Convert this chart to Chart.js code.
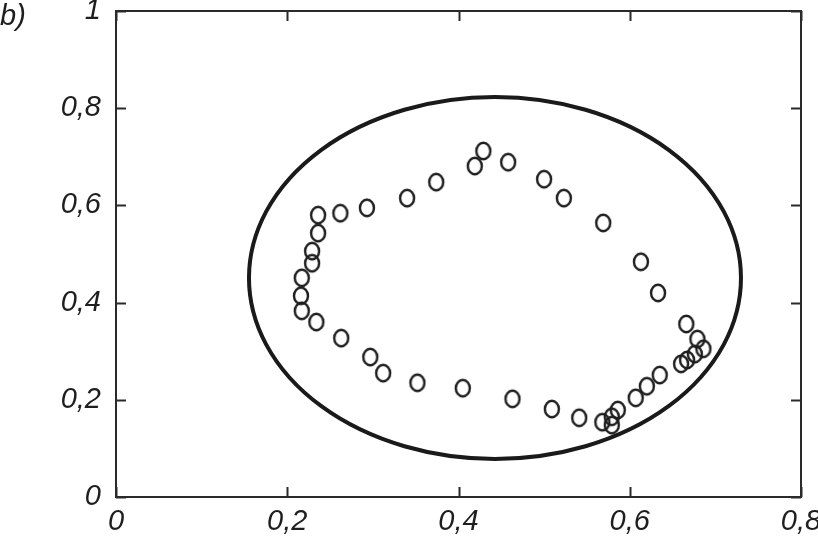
<!DOCTYPE html>
<html lang="en">
<head>
    <meta charset="UTF-8">
    <title>Scatter with ellipse (b)</title>
    <script src="https://cdn.jsdelivr.net/npm/chart.js"></script>
    <style>
        body {
            margin: 0;
            padding: 0;
            background-color: #fff;
        }
        .wrap {
            width: 818px;
            height: 540px;
        }
    </style>
</head>
<body>
    <div class="wrap">
        <canvas id="plot" width="818" height="540"></canvas>
    </div>

    <script>
        // measured points (x, y)
        const xValues = [0.429, 0.419, 0.458, 0.500, 0.523, 0.569, 0.613, 0.633, 0.666, 0.679,
                         0.686, 0.676, 0.667, 0.660, 0.635, 0.620, 0.607, 0.586, 0.579, 0.579,
                         0.568, 0.541, 0.509, 0.463, 0.405, 0.352, 0.312, 0.297, 0.263, 0.234,
                         0.217, 0.216, 0.217, 0.229, 0.229, 0.236, 0.236, 0.262, 0.293, 0.340,
                         0.374];
        const yValues = [0.712, 0.681, 0.689, 0.654, 0.615, 0.564, 0.484, 0.420, 0.356, 0.325,
                         0.305, 0.294, 0.282, 0.274, 0.251, 0.228, 0.204, 0.179, 0.165, 0.148,
                         0.154, 0.163, 0.181, 0.202, 0.224, 0.235, 0.255, 0.288, 0.327, 0.360,
                         0.383, 0.414, 0.451, 0.481, 0.506, 0.543, 0.580, 0.584, 0.595, 0.615,
                         0.648];

        // ellipse (center and semi-axes, data units)
        const ellipseCx = 0.4426;
        const ellipseCy = 0.4506;
        const ellipseRx = 0.2873;
        const ellipseRy = 0.3724;

        const xTicks = [0, 0.2, 0.4, 0.6, 0.8];
        const yTicks = [0, 0.2, 0.4, 0.6, 0.8, 1];
        const panelLabel = 'b)';

        const labelFont = { family: 'Liberation Sans, Arial, sans-serif', size: 29, style: 'italic' };
        const ink = '#1e1e1e';

        function fmt(v) {
            const r = Math.round(v * 10) / 10;
            return String(r).replace('.', ',');
        }

        // open "o" marker, a bit taller than wide
        const marker = document.createElement('canvas');
        marker.width = 22;
        marker.height = 24;
        const mctx = marker.getContext('2d');
        mctx.strokeStyle = ink;
        mctx.lineWidth = 2.4;
        mctx.beginPath();
        mctx.ellipse(11, 12, 7, 8.2, 0, 0, Math.PI * 2);
        mctx.stroke();

        const framePlugin = {
            id: 'frame',
            beforeDatasetsDraw(chart) {
                const c = chart.ctx;
                const xs = chart.scales.x;
                const ys = chart.scales.y;

                // ellipse
                const cx = xs.getPixelForValue(ellipseCx);
                const cy = ys.getPixelForValue(ellipseCy);
                const rx = xs.getPixelForValue(ellipseCx + ellipseRx) - cx;
                const ry = cy - ys.getPixelForValue(ellipseCy + ellipseRy);
                c.save();
                c.strokeStyle = '#1a1a1a';
                c.lineWidth = 4;
                c.beginPath();
                c.ellipse(cx, cy, rx, ry, 0, 0, Math.PI * 2);
                c.stroke();
                c.restore();
            },
            afterDraw(chart) {
                const c = chart.ctx;
                const xs = chart.scales.x;
                const ys = chart.scales.y;
                const a = chart.chartArea;
                const tick = 10;

                c.save();
                c.strokeStyle = '#2a2a2a';
                c.lineWidth = 2;
                c.strokeRect(a.left, a.top, a.right - a.left, a.bottom - a.top);

                c.beginPath();
                xTicks.forEach(v => {
                    const px = Math.round(xs.getPixelForValue(v)) + 0.5;
                    c.moveTo(px, a.bottom);
                    c.lineTo(px, a.bottom - tick);
                    c.moveTo(px, a.top);
                    c.lineTo(px, a.top + tick);
                });
                yTicks.forEach(v => {
                    const py = Math.round(ys.getPixelForValue(v)) + 0.5;
                    c.moveTo(a.left, py);
                    c.lineTo(a.left + tick, py);
                    c.moveTo(a.right, py);
                    c.lineTo(a.right - tick, py);
                });
                c.stroke();

                // panel letter
                c.fillStyle = ink;
                c.font = 'italic 29px "Liberation Sans", Arial, sans-serif';
                c.textAlign = 'left';
                c.textBaseline = 'middle';
                c.fillText(panelLabel, 0, 17);
                c.restore();
            }
        };

        const points = xValues.map((x, i) => ({ x: x, y: yValues[i] }));

        new Chart(document.getElementById('plot'), {
            type: 'scatter',
            data: {
                datasets: [{
                    data: points,
                    pointStyle: marker,
                    pointRadius: 8,
                    pointHoverRadius: 8
                }]
            },
            options: {
                responsive: false,
                animation: false,
                events: [],
                layout: {
                    padding: { left: 0, right: 17, top: 11, bottom: 0 }
                },
                plugins: {
                    legend: { display: false },
                    tooltip: { enabled: false }
                },
                scales: {
                    x: {
                        type: 'linear',
                        min: 0,
                        max: 0.8,
                        grid: { display: false, drawTicks: false },
                        border: { display: false },
                        afterBuildTicks: s => { s.ticks = xTicks.map(v => ({ value: v })); },
                        afterFit: s => { s.height = 43; s.paddingLeft = 0; s.paddingRight = 0; },
                        ticks: {
                            padding: 8,
                            color: ink,
                            font: labelFont,
                            maxRotation: 0,
                            autoSkip: false,
                            callback: v => fmt(v)
                        }
                    },
                    y: {
                        type: 'linear',
                        min: 0,
                        max: 1,
                        grid: { display: false, drawTicks: false },
                        border: { display: false },
                        afterBuildTicks: s => { s.ticks = yTicks.map(v => ({ value: v })); },
                        afterFit: s => { s.width = 116; s.paddingTop = 0; s.paddingBottom = 0; },
                        ticks: {
                            padding: 15,
                            color: ink,
                            font: labelFont,
                            autoSkip: false,
                            callback: v => fmt(v)
                        }
                    }
                }
            },
            plugins: [framePlugin]
        });
    </script>
</body>
</html>
